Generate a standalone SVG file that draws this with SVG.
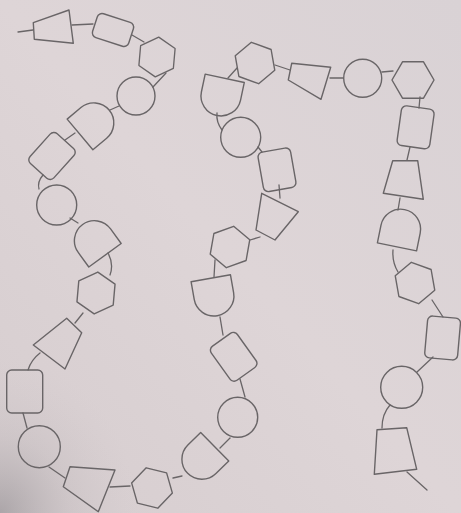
<svg xmlns="http://www.w3.org/2000/svg" xmlns:xlink="http://www.w3.org/1999/xlink" width="461" height="513" viewBox="0 0 461 513">
<defs>
<linearGradient id="paper" x1="1" y1="0" x2="0" y2="1">
<stop offset="0" stop-color="#d9d2d5"/>
<stop offset="0.5" stop-color="#ded5d7"/>
<stop offset="1" stop-color="#d6cdcf"/>
</linearGradient>
<radialGradient id="shade" cx="0" cy="1" r="0.3">
<stop offset="0" stop-color="#8f8b8f" stop-opacity="0.6"/>
<stop offset="0.5" stop-color="#a9a4a7" stop-opacity="0.2"/>
<stop offset="1" stop-color="#c8c1c4" stop-opacity="0"/>
</radialGradient>
<polygon id="hex" points="0,-21 18.2,-10.5 18.2,10.5 0,21 -18.2,10.5 -18.2,-10.5"/>
<path id="dsh" d="M-20,18 L-20,0 A20,20 0 0 1 20,0 L20,18 Z"/>
<style>
.s{fill:none;stroke:#696567;stroke-width:1.4;stroke-linejoin:round}
.c{fill:none;stroke:#696567;stroke-width:1.3;stroke-linecap:round}
</style>
</defs>
<rect width="461" height="513" fill="url(#paper)"/>
<rect width="461" height="513" fill="url(#shade)"/>
<g id="connectors" class="c">
<path d="M18,32 L33,30"/>
<path d="M72,25 L93,24"/>
<path d="M132,35 L144,42"/>
<path d="M166,73 L153,87"/>
<path d="M119,106 L110,110"/>
<path d="M75,133 L65,140"/>
<path d="M43,175 Q37,182 39,189"/>
<path d="M70,218 L78,223"/>
<path d="M108,253 Q114,264 110,275"/>
<path d="M83,313 L75,323"/>
<path d="M40,353 Q31,360 28,370"/>
<path d="M23,413 L27,428"/>
<path d="M49,467 L65,478"/>
<path d="M110,487 L130,486"/>
<path d="M173,478 L182,476"/>
<path d="M220,448 L230,438"/>
<path d="M245,397 L240,379"/>
<path d="M220,317 L223,335"/>
<path d="M215,260 L214,277"/>
<path d="M250,240 L260,237"/>
<path d="M280,198 L279,185"/>
<path d="M258,147 L262,152"/>
<path d="M222,130 Q216,122 217,113"/>
<path d="M228,78 L237,68"/>
<path d="M275,65 L290,70"/>
<path d="M330,78 L343,78"/>
<path d="M382,72 L393,71"/>
<path d="M420,97 L419,108"/>
<path d="M410,147 L407,160"/>
<path d="M400,198 L398,210"/>
<path d="M393,250 Q392,262 398,272"/>
<path d="M432,300 L443,317"/>
<path d="M433,357 L417,372"/>
<path d="M390,405 Q382,414 382,428"/>
<path d="M407,472 L427,490"/>
</g>
<g id="n1"><polygon class="s" points="33.3,22.7 69,10 73.3,43.3 34.3,39.3"/></g>
<g id="n2"><rect class="s" x="-19" y="-12.5" width="38" height="25" rx="5" transform="translate(113,30) rotate(18)"/></g>
<g id="n3"><use href="#hex" class="s" transform="translate(157,57) rotate(5) scale(0.95)"/></g>
<g id="n4"><circle class="s" cx="136" cy="96" r="19"/></g>
<g id="n5"><use href="#dsh" class="s" transform="translate(93.8,122.9) rotate(50)"/></g>
<g id="n6"><rect class="s" x="-16" y="-20" width="32" height="40" rx="5" transform="translate(52,156) rotate(42)"/></g>
<g id="n7"><circle class="s" cx="56.7" cy="205" r="20"/></g>
<g id="n8"><use href="#dsh" class="s" transform="translate(94.4,240.7) rotate(-36)"/></g>
<g id="n9"><use href="#hex" class="s" transform="translate(96,293) rotate(5)"/></g>
<g id="n10"><polygon class="s" points="66.7,318.3 81.7,332.7 65,369 33.3,345"/></g>
<g id="n11"><rect class="s" x="6.7" y="370" width="36" height="43" rx="5"/></g>
<g id="n12"><circle class="s" cx="39.3" cy="446.7" r="21"/></g>
<g id="n13"><polygon class="s" points="70,466.7 115,470 98.3,511.7 63.3,486.7"/></g>
<g id="n14"><use href="#hex" class="s" transform="translate(152,488) rotate(-16)"/></g>
<g id="n15"><use href="#dsh" class="s" transform="translate(201.9,459.3) rotate(-134.6)"/></g>
<g id="n16"><circle class="s" cx="237.7" cy="417.3" r="20"/></g>
<g id="n17"><rect class="s" x="-16" y="-21" width="32" height="42" rx="5" transform="translate(233.7,356.8) rotate(-35.6)"/></g>
<g id="n18"><use href="#dsh" class="s" transform="translate(213.9,296) rotate(170)"/></g>
<g id="n19"><use href="#hex" class="s" transform="translate(230,247) rotate(10)"/></g>
<g id="n20"><polygon class="s" points="261.7,193.3 298.3,211.7 275,240 256,230"/></g>
<g id="n21"><rect class="s" x="-16.5" y="-20" width="33" height="40" rx="5" transform="translate(277,169.8) rotate(-10)"/></g>
<g id="n22"><circle class="s" cx="240.7" cy="137.3" r="20"/></g>
<g id="n23"><use href="#dsh" class="s" transform="translate(221,95.9) rotate(192)"/></g>
<g id="n24"><use href="#hex" class="s" transform="translate(255,63) rotate(-10)"/></g>
<g id="n25"><polygon class="s" points="291.7,63.3 330.7,67.3 321,99.3 288.3,80"/></g>
<g id="n26"><circle class="s" cx="362.7" cy="78.3" r="19"/></g>
<g id="n27"><use href="#hex" class="s" transform="translate(413,80) rotate(30)"/></g>
<g id="n28"><rect class="s" x="-16.5" y="-20" width="33" height="40" rx="5" transform="translate(415.6,127.3) rotate(8)"/></g>
<g id="n29"><polygon class="s" points="392.7,160.7 417.7,160.7 423.3,199.3 383.3,193.3"/></g>
<g id="n30"><use href="#dsh" class="s" transform="translate(400.6,229.2) rotate(11.6)"/></g>
<g id="n31"><use href="#hex" class="s" transform="translate(415,283) rotate(-10)"/></g>
<g id="n32"><rect class="s" x="-16.5" y="-21" width="33" height="42" rx="5" transform="translate(442.6,338) rotate(5)"/></g>
<g id="n33"><circle class="s" cx="401.7" cy="387.3" r="21"/></g>
<g id="n34"><polygon class="s" points="377,429.7 406.7,427.7 416.7,469.3 374.3,474.3"/></g>
</svg>
